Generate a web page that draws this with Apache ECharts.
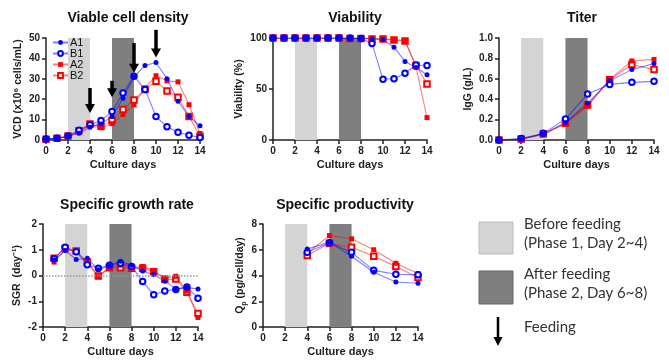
<!DOCTYPE html>
<html>
<head>
<meta charset="utf-8">
<style>
  html, body { margin: 0; padding: 0; background: #fff; }
  #chart { width: 669px; height: 361px; }
</style>
<script src="https://cdn.jsdelivr.net/npm/echarts@6/dist/echarts.min.js"></script>
</head>
<body>
<div id="chart"></div>
<script>
// culture days
const days = [0, 1, 2, 3, 4, 5, 6, 7, 8, 9, 10, 11, 12, 13, 14]
const sgrDays = [1, 2, 3, 4, 5, 6, 7, 8, 9, 10, 11, 12, 13, 14]
const titerDays = [0, 2, 4, 6, 8, 10, 12, 14]
const qpDays = [4, 6, 8, 10, 12, 14]

// VCD (x10^6 cells/mL)
const vcdA1 = [0.3, 0.7, 1.7, 3.3, 6.3, 7.8, 11.5, 20.5, 31, 36.5, 38, 30, 19, 11.5, 7]
const vcdB1 = [0.5, 0.9, 2, 4.8, 7.5, 9.5, 14, 23, 31.2, 24.8, 11.5, 6.5, 3.8, 2.3, 1.2]
const vcdA2 = [0.3, 0.6, 1.8, 4, 7, 6, 8, 12.5, 17.3, 25.5, 31.5, 29, 28.5, 17.3, 3.2]
const vcdB2 = [0.4, 0.8, 1.9, 4.5, 7.8, 6.8, 9.5, 15, 19.6, 24.8, 28.8, 24, 21, 11.5, 1.8]

// Viability (%)
const viaA1 = [100, 100, 100, 100, 100, 100, 100, 100, 100, 99, 98.5, 91, 77, 71, 64]
const viaB1 = [100, 100, 100, 100, 100, 100, 100, 100, 99.5, 94.5, 59.5, 60, 65.5, 73.5, 73]
const viaA2 = [100, 100, 100, 100, 100, 100, 100, 100, 100, 99.5, 99, 98.5, 97.5, 71.5, 22]
const viaB2 = [100, 100, 100, 100, 100, 100, 100, 99.5, 99.5, 99, 99, 98, 97, 73, 55]

// Titer IgG (g/L)
const titA1 = [0, 0.005, 0.06, 0.17, 0.36, 0.58, 0.69, 0.75]
const titB1 = [0, 0.015, 0.065, 0.205, 0.45, 0.545, 0.565, 0.575]
const titA2 = [0, 0.01, 0.055, 0.16, 0.33, 0.595, 0.775, 0.79]
const titB2 = [0, 0.01, 0.06, 0.165, 0.345, 0.59, 0.74, 0.69]

// Specific growth rate (day^-1)
const sgrA1 = [0.6, 0.97, 0.62, 0.67, 0.22, 0.38, 0.55, 0.4, 0.17, 0.04, -0.22, -0.52, -0.47, -0.52]
const sgrB1 = [0.65, 1.1, 0.92, 0.42, 0.28, 0.4, 0.48, 0.35, -0.23, -0.75, -0.6, -0.54, -0.45, -0.88]
const sgrA2 = [0.52, 1.0, 0.95, 0.5, -0.05, 0.3, 0.4, 0.3, 0.35, 0.2, -0.1, -0.03, -0.6, -1.63]
const sgrB2 = [0.67, 1.05, 0.95, 0.52, -0.02, 0.3, 0.3, 0.28, 0.28, 0.15, -0.15, -0.14, -0.65, -1.48]

// Specific productivity (pg/cell/day)
const qpA1 = [6.05, 6.6, 5.5, 4.25, 3.5, 3.4]
const qpB1 = [5.8, 6.55, 5.8, 4.4, 4.1, 4.05]
const qpA2 = [5.75, 7.1, 6.85, 6.0, 4.95, 4.15]
const qpB2 = [5.55, 6.5, 6.2, 5.5, 4.7, 3.85]

// feeding arrows: [day, top, tip]
const feedArrows = [[4, 25.5, 13.2], [6, 29, 21], [8, 47.5, 33], [10, 54, 40.5]]

const phase1 = [2, 4]
const phase2 = [6, 8]

const FONT = "'Liberation Sans', Arial, sans-serif"
const BLUE = '#0000ff'
const RED = '#ff0000'
const LIGHT = '#d4d4d4'
const DARK = '#7f7f7f'
const AXIS = '#222'

const grids = [
  { left: 46, top: 38, width: 154, height: 102 },
  { left: 273, top: 38, width: 154, height: 102 },
  { left: 499, top: 38, width: 155, height: 102 },
  { left: 43, top: 224, width: 155, height: 103 },
  { left: 263, top: 224, width: 155, height: 103 },
]

function xAxis(i) {
  return {
    gridIndex: i, type: 'value', min: 0, max: 14, interval: 2,
    name: 'Culture days', nameLocation: 'middle', nameGap: 19,
    nameTextStyle: { fontFamily: FONT, fontWeight: 'bold', fontSize: 11, color: AXIS },
    axisLine: { onZero: false, lineStyle: { color: AXIS, width: 1.5 } },
    axisTick: { length: 4, lineStyle: { color: AXIS, width: 1.5 } },
    axisLabel: { fontFamily: FONT, fontWeight: 'bold', fontSize: 10, color: AXIS, margin: 6 },
    splitLine: { show: false },
  }
}

function yAxis(i, min, max, interval, name, gap, fmt, rich) {
  return {
    gridIndex: i, type: 'value', min, max, interval,
    name, nameLocation: 'middle', nameGap: gap,
    nameTextStyle: { fontFamily: FONT, fontWeight: 'bold', fontSize: 10.5, color: AXIS, rich },
    axisLine: { show: true, onZero: false, lineStyle: { color: AXIS, width: 1.5 } },
    axisTick: { show: true, length: 4, lineStyle: { color: AXIS, width: 1.5 } },
    axisLabel: { fontFamily: FONT, fontWeight: 'bold', fontSize: 10, color: AXIS, margin: 6, formatter: fmt },
    splitLine: { show: false },
  }
}

function pts(xs, ys) { return xs.map((x, k) => [x, ys[k]]) }

function group(i, xs, a1, b1, a2, b2) {
  const mk = (name, ys, color, symbol, size) => ({
    name, type: 'line', xAxisIndex: i, yAxisIndex: i,
    data: pts(xs, ys), symbol, symbolSize: size, z: 3,
    itemStyle: { color, borderWidth: symbol.startsWith('empty') ? 1.3 : 0 },
    lineStyle: { color, width: 1.1, opacity: 0.5 },
    emphasis: { disabled: true }, animation: false,
  })
  return [
    mk('B2', b2, RED, 'emptyRect', 5.5),
    mk('A2', a2, RED, 'rect', 5),
    mk('B1', b1, BLUE, 'emptyCircle', 5.5),
    mk('A1', a1, BLUE, 'circle', 5),
  ]
}

// shaded phases drawn by a helper series per panel
function shade(i, extra) {
  const s = {
    type: 'line', xAxisIndex: i, yAxisIndex: i, data: [], z: 1, silent: true, animation: false,
    markArea: {
      silent: true,
      data: [
        [{ xAxis: phase1[0], itemStyle: { color: LIGHT } }, { xAxis: phase1[1] }],
        [{ xAxis: phase2[0], itemStyle: { color: DARK } }, { xAxis: phase2[1] }],
      ],
    },
  }
  return Object.assign(s, extra || {})
}

const series = [
  shade(0), shade(1), shade(2),
  shade(3, {
    markLine: {
      silent: true, symbol: 'none', label: { show: false },
      lineStyle: { color: '#999', type: 'dotted', width: 1.5 },
      data: [{ yAxis: 0 }],
    },
  }),
  shade(4),
  ...group(0, days, vcdA1, vcdB1, vcdA2, vcdB2),
  ...group(1, days, viaA1, viaB1, viaA2, viaB2),
  ...group(2, titerDays, titA1, titB1, titA2, titB2),
  ...group(3, sgrDays, sgrA1, sgrB1, sgrA2, sgrB2),
  ...group(4, qpDays, qpA1, qpB1, qpA2, qpB2),
  {
    // feeding arrows
    type: 'custom', xAxisIndex: 0, yAxisIndex: 0, z: 5, clip: false, silent: true, animation: false,
    data: feedArrows,
    encode: { x: 0, y: [1, 2] },
    renderItem: (params, api) => {
      const top = api.coord([api.value(0), api.value(1)])
      const tip = api.coord([api.value(0), api.value(2)])
      const headH = 9, headW = 10
      return {
        type: 'group',
        children: [
          { type: 'line', shape: { x1: top[0], y1: top[1], x2: tip[0], y2: tip[1] - headH + 1 }, style: { stroke: '#000', lineWidth: 3.5 } },
          { type: 'polygon', shape: { points: [[tip[0] - headW / 2, tip[1] - headH], [tip[0] + headW / 2, tip[1] - headH], [tip[0], tip[1]]] }, style: { fill: '#000' } },
        ],
      }
    },
  },
]

const titles = [
  ['Viable cell density', 123, 6],
  ['Viability', 350, 6],
  ['Titer', 577, 6],
  ['Specific growth rate', 122, 193],
  ['Specific productivity', 340, 193],
].map(([text, x, y]) => ({
  text, left: x, top: y, textAlign: 'center',
  textStyle: { fontFamily: FONT, fontWeight: 'bold', fontSize: 14, color: '#111' },
}))

const LFONT = "Lato, 'Open Sans', sans-serif"
const ltext = (text, x, y) => ({
  type: 'text', left: x, top: y,
  style: { text, font: `15px ${LFONT}`, fill: '#333' },
})

const chart = echarts.init(document.getElementById('chart'), null, { renderer: 'canvas' })
chart.setOption({
  animation: false,
  title: titles,
  grid: grids,
  xAxis: [0, 1, 2, 3, 4].map(xAxis),
  yAxis: [
    yAxis(0, 0, 50, 10, 'VCD (x10⁶ cells/mL)', 22),
    yAxis(1, 0, 100, 50, 'Viability (%)', 28),
    yAxis(2, 0, 1, 0.2, 'IgG (g/L)', 25, v => v.toFixed(1)),
    yAxis(3, -2, 2, 1, 'SGR  (day⁻¹)', 20),
    yAxis(4, 0, 8, 2, '{n|Q}{s|p}{n| (pg/cell/day)}', 14, null, {
      n: { fontFamily: FONT, fontWeight: 'bold', fontSize: 10.5, color: AXIS, lineHeight: 14 },
      s: { fontFamily: FONT, fontWeight: 'bold', fontSize: 7, color: AXIS, lineHeight: 14, verticalAlign: 'bottom' },
    }),
  ],
  legend: {
    data: ['A1', 'B1', 'A2', 'B2'],
    orient: 'vertical', left: 47, top: 32,
    itemWidth: 15, itemHeight: 6, itemGap: 0,
    textStyle: { fontFamily: FONT, fontSize: 11, color: '#111', lineHeight: 11, padding: [0, 0, 0, -3] },
    selectedMode: false,
  },
  graphic: [
    { type: 'rect', shape: { x: 479, y: 222, width: 34, height: 32 }, style: { fill: LIGHT, stroke: '#bbb', lineWidth: 1 } },
    { type: 'rect', shape: { x: 479, y: 271, width: 34, height: 33 }, style: { fill: DARK, stroke: '#666', lineWidth: 1 } },
    ltext('Before feeding', 524, 217),
    ltext('(Phase 1, Day 2~4)', 524, 236),
    ltext('After feeding', 524, 267),
    ltext('(Phase 2, Day 6~8)', 524, 286),
    ltext('Feeding', 524, 320),
    { type: 'line', shape: { x1: 498, y1: 317, x2: 498, y2: 339 }, style: { stroke: '#000', lineWidth: 2.5 } },
    { type: 'polygon', shape: { points: [[493.5, 337], [502.5, 337], [498, 346]] }, style: { fill: '#000' } },
  ],
  series,
})
</script>
</body>
</html>
